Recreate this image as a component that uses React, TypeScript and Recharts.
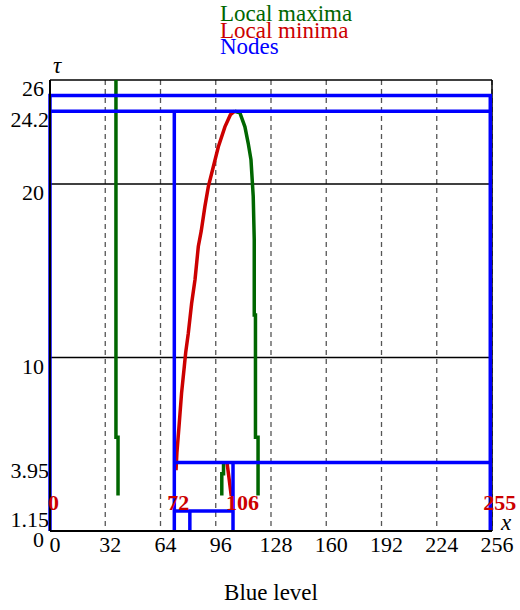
import React from 'react';
import {
  ComposedChart,
  Line,
  Scatter,
  XAxis,
  YAxis,
  CartesianGrid,
  ReferenceLine,
} from 'recharts';

// axes
const xTicks = [0, 32, 64, 96, 128, 160, 192, 224, 256];
const tauTicks = [0, 1.15, 3.95, 10, 20, 24.2, 26];
const solidTau = [10, 20, 26];

// local maxima (green)
const maximaLeft = [
  { x: 38.2, tau: 26 },
  { x: 38.2, tau: 5.4 },
  { x: 39.4, tau: 5.4 },
  { x: 39.4, tau: 2.05 },
];
const maximaRight = [
  { x: 107, tau: 24.2 },
  { x: 110, tau: 24.1 },
  { x: 112.9, tau: 23.3 },
  { x: 114.8, tau: 22.35 },
  { x: 116.4, tau: 21.4 },
  { x: 117.7, tau: 19.3 },
  { x: 118.3, tau: 16.8 },
  { x: 118.3, tau: 12.45 },
  { x: 119, tau: 12.45 },
  { x: 119, tau: 5.4 },
  { x: 120.5, tau: 5.4 },
  { x: 120.5, tau: 2.05 },
];
const maximaSmall = [
  { x: 100.5, tau: 3.95 },
  { x: 100.5, tau: 3.3 },
  { x: 99.5, tau: 3.3 },
  { x: 99.5, tau: 2.05 },
];

// local minima (red)
const minimaMain = [
  { x: 73, tau: 3.5 },
  { x: 73.5, tau: 4.5 },
  { x: 74.7, tau: 6 },
  { x: 76.2, tau: 7.95 },
  { x: 77.8, tau: 9.5 },
  { x: 78.6, tau: 10.3 },
  { x: 80.1, tau: 11.4 },
  { x: 82, tau: 13.1 },
  { x: 84, tau: 14.5 },
  { x: 85.9, tau: 16.4 },
  { x: 87.6, tau: 17.3 },
  { x: 89.7, tau: 18.7 },
  { x: 91.7, tau: 19.85 },
  { x: 94.6, tau: 21 },
  { x: 97.5, tau: 22.15 },
  { x: 101.3, tau: 23.3 },
  { x: 104.5, tau: 24 },
  { x: 107, tau: 24.2 },
];
const minimaSmall = [
  { x: 102.5, tau: 3.95 },
  { x: 103.5, tau: 3.2 },
  { x: 104.5, tau: 2.4 },
  { x: 105, tau: 2.0 },
];

// nodes (blue)
const nodeRoot = [
  { x: 0, tau: 0 },
  { x: 0, tau: 25.1 },
  { x: 255, tau: 25.1 },
  { x: 255, tau: 0 },
];
const node242 = [
  { x: 0, tau: 24.2 },
  { x: 255, tau: 24.2 },
];
const node72 = [
  { x: 72, tau: 0 },
  { x: 72, tau: 24.2 },
];
const node395 = [
  { x: 72, tau: 3.95 },
  { x: 255, tau: 3.95 },
];
const node106 = [
  { x: 106, tau: 0 },
  { x: 106, tau: 3.95 },
];
const node115 = [
  { x: 72, tau: 1.15 },
  { x: 106, tau: 1.15 },
];
const node81 = [
  { x: 81, tau: 0 },
  { x: 81, tau: 1.15 },
];
const nodeSegments = [nodeRoot, node242, node72, node395, node106, node115, node81];

const nodeLabels = [
  { x: 0, tau: 0, label: '0' },
  { x: 72, tau: 0, label: '72' },
  { x: 106, tau: 0, label: '106' },
  { x: 255, tau: 0, label: '255' },
];

const SERIF = '"Liberation Serif", "Times New Roman", serif';
const GREEN = '#006600';
const RED = '#cc0000';
const BLUE = '#0000ff';

const XTick = (props: any) => {
  const { x, y, payload } = props;
  return (
    <text x={x + 5} y={y + 21} textAnchor="middle" fontFamily={SERIF} fontSize={22} fill="#000">
      {payload.value}
    </text>
  );
};

const YTick = (props: any) => {
  const { x, y, payload } = props;
  const right = Number.isInteger(payload.value) ? x - 6 : x - 1;
  return (
    <text x={right} y={y + 16} textAnchor="end" fontFamily={SERIF} fontSize={22} fill="#000">
      {payload.value}
    </text>
  );
};

const NodeLabel = (props: any) => {
  const { cx, cy, payload } = props;
  const dx = payload.label === '0' ? -2 : -7;
  return (
    <text x={cx + dx} y={cy - 21} fontFamily={SERIF} fontWeight="bold" fontSize={22} fill={RED}>
      {payload.label}
    </text>
  );
};

const App: React.FC = () => {
  return (
    <div style={{ position: 'absolute', left: 0, top: 0, width: 520, height: 610 }}>
      <ComposedChart width={520} height={610} margin={{ top: 80, right: 28, bottom: 0, left: 0 }}>
        <CartesianGrid horizontal={false} stroke="#555" strokeDasharray="5 4" strokeWidth={1.3} />
        <XAxis
          type="number"
          dataKey="x"
          domain={[0, 256]}
          ticks={xTicks}
          interval={0}
          height={79}
          tickLine={false}
          tickSize={0}
          tickMargin={0}
          axisLine={{ stroke: '#000', strokeWidth: 2 }}
          tick={<XTick />}
          label={{ value: 'Blue level', position: 'insideBottom', offset: 10, fill: '#000', fontSize: 23, fontFamily: SERIF }}
        />
        <YAxis
          type="number"
          dataKey="tau"
          domain={[0, 26]}
          ticks={tauTicks}
          interval={0}
          width={50}
          tickLine={false}
          tickSize={0}
          tickMargin={0}
          axisLine={{ stroke: '#000', strokeWidth: 2 }}
          tick={<YTick />}
        />
        {solidTau.map((t) => (
          <ReferenceLine key={`h${t}`} y={t} stroke="#000" strokeWidth={1.5} />
        ))}
        <ReferenceLine x={256} stroke="#000" strokeWidth={1.5} />

        <Line data={maximaLeft} dataKey="tau" type="linear" stroke={GREEN} strokeWidth={3.5} dot={false} activeDot={false} isAnimationActive={false} />
        <Line data={maximaRight} dataKey="tau" type="linear" stroke={GREEN} strokeWidth={3.5} dot={false} activeDot={false} isAnimationActive={false} />
        <Line data={maximaSmall} dataKey="tau" type="linear" stroke={GREEN} strokeWidth={3.5} dot={false} activeDot={false} isAnimationActive={false} />
        <Line data={minimaMain} dataKey="tau" type="linear" stroke={RED} strokeWidth={3.5} dot={false} activeDot={false} isAnimationActive={false} />
        <Line data={minimaSmall} dataKey="tau" type="linear" stroke={RED} strokeWidth={3.5} dot={false} activeDot={false} isAnimationActive={false} />

        {nodeSegments.map((seg, i) => (
          <Line
            key={`n${i}`}
            data={seg}
            dataKey="tau"
            type="linear"
            stroke={BLUE}
            strokeWidth={3.5}
            dot={false}
            activeDot={false}
            isAnimationActive={false}
          />
        ))}

        <Scatter data={nodeLabels} dataKey="tau" shape={<NodeLabel />} isAnimationActive={false} />
      </ComposedChart>

      <svg
        width={520}
        height={610}
        style={{ position: 'absolute', left: 0, top: 0, pointerEvents: 'none' }}
      >
        <text x={220} y={21} fontFamily={SERIF} fontSize={23} fill={GREEN}>Local maxima</text>
        <text x={220} y={38} fontFamily={SERIF} fontSize={23} fill={RED}>Local minima</text>
        <text x={220} y={54} fontFamily={SERIF} fontSize={23} fill={BLUE}>Nodes</text>
        <text x={53} y={73} fontFamily={SERIF} fontSize={23} fontStyle="italic" fill="#000">τ</text>
        <text x={501} y={530} fontFamily={SERIF} fontSize={23} fontStyle="italic" fill="#000">x</text>
      </svg>
    </div>
  );
};

export default App;
